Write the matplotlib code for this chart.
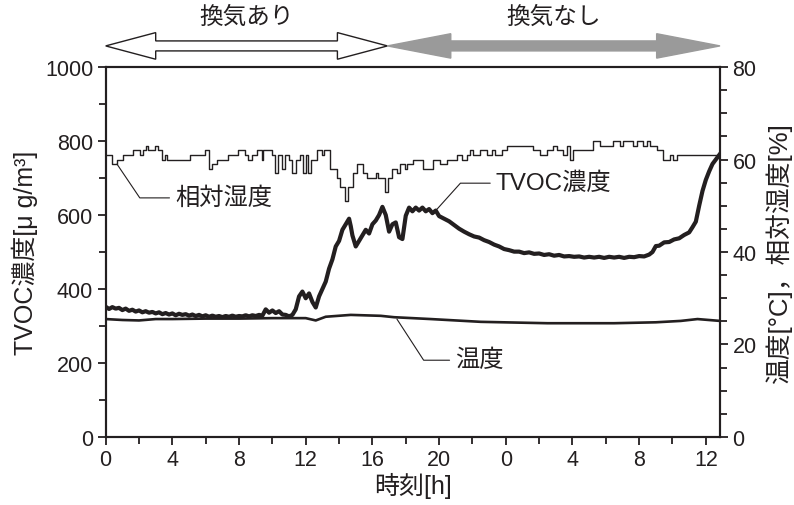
import matplotlib
matplotlib.use("Agg")
import matplotlib.pyplot as plt
from matplotlib.patches import Polygon
from matplotlib.ticker import MultipleLocator, FixedLocator
from matplotlib.transforms import blended_transform_factory

plt.rcParams["font.family"] = ["Liberation Sans", "Noto Sans CJK JP"]

INK = "#231f20"

# TVOC concentration [ug/m3] vs elapsed time [h]
tvoc_h = [0.0, 0.2, 0.4, 0.6, 0.8, 1.0, 1.2, 1.4, 1.6, 1.8, 2.0, 2.2, 2.4, 2.6, 2.8,
          3.0, 3.2, 3.4, 3.6, 3.8, 4.0, 4.2, 4.4, 4.6, 4.8, 5.0, 5.2, 5.4, 5.6, 5.8,
          6.0, 6.2, 6.4, 6.6, 6.8, 7.0, 7.2, 7.4, 7.6, 7.8, 8.0, 8.2, 8.4, 8.6, 8.8,
          9.0, 9.2, 9.4, 9.6, 9.8, 10.0, 10.2, 10.4, 10.6, 10.8, 11.0, 11.2,
          11.4, 11.6, 11.8, 12.0, 12.2, 12.4, 12.6, 12.8, 13.0, 13.2, 13.4, 13.6,
          13.8, 14.0, 14.2, 14.4, 14.6, 14.7, 14.8, 15.0, 15.2, 15.4, 15.6, 15.8,
          16.0, 16.2, 16.4, 16.6, 16.8, 17.0, 17.2, 17.4, 17.6, 17.8, 18.0, 18.2,
          18.4, 18.6, 18.8, 19.0, 19.2, 19.4, 19.6, 19.8, 20.0,
          20.3, 20.6, 20.9, 21.2, 21.5, 21.8, 22.1, 22.4, 22.7, 23.0, 23.3, 23.6,
          23.9, 24.2, 24.5, 24.8, 25.1, 25.4, 25.7, 26.0, 26.3, 26.6, 26.9, 27.2,
          27.5, 27.8, 28.1, 28.4, 28.7, 29.0, 29.3, 29.6, 29.9, 30.2, 30.5, 30.8,
          31.1, 31.4, 31.7, 32.0, 32.3, 32.6, 32.8, 33.0, 33.2, 33.5, 33.8, 34.1,
          34.4, 34.7, 35.0, 35.2, 35.4, 35.6, 35.8, 36.0, 36.2, 36.4, 36.6, 36.85]
tvoc = [352, 346, 351, 347, 349, 343, 347, 341, 344, 339, 342, 337, 340, 336, 338,
        334, 337, 332, 335, 331, 334, 329, 333, 330, 332, 328, 331, 327, 330, 326,
        329, 325, 328, 325, 327, 324, 327, 325, 328, 325, 327, 326, 329, 326, 329,
        327, 330, 328, 345, 336, 342, 335, 340, 331, 330, 326, 330,
        345, 380, 393, 375, 388, 365, 350, 380, 400, 420, 455, 480,
        515, 530, 560, 575, 590, 570, 545, 515, 530, 545, 560, 550,
        575, 585, 600, 622, 600, 555, 575, 580, 540, 535, 598, 620,
        610, 620, 612, 620, 610, 616, 605, 612, 597,
        590, 583, 573, 563, 555, 548, 542, 539, 532, 527, 520, 515,
        508, 505, 501, 501, 497, 499, 495, 496, 492, 494, 490, 492,
        488, 489, 487, 488, 485, 487, 485, 487, 484, 487, 485, 487,
        484, 487, 486, 489, 488, 493, 500, 516, 517, 526, 527, 534,
        537, 546, 553, 567, 582, 625, 665, 695, 718, 738, 750, 765]

# temperature [degC]
temp_h = [0, 1, 2, 3, 4, 6, 8, 10, 12, 12.6, 13.2, 14.7, 16.5, 17.3, 19.5, 22.5,
          26.5, 30.5, 33, 34.5, 35.5, 36.85]
temp = [25.5, 25.3, 25.2, 25.5, 25.5, 25.6, 25.6, 25.7, 25.7, 25.2, 26.0, 26.4,
        26.2, 25.9, 25.5, 24.9, 24.6, 24.6, 24.8, 25.1, 25.5, 25.1]

# relative humidity [%] (stepwise sensor readings, value holds until next time)
rh_h = [0, 0.35, 0.65, 1.05, 1.65, 2.05, 2.25, 2.4, 2.55, 2.95, 3.15, 3.35, 3.55,
        3.7, 5.05, 5.95, 6.22, 6.4, 6.7, 7.35, 7.95, 8.35, 8.55, 8.75, 9.05, 9.35,
        9.45, 9.95, 10.15, 10.35, 10.6, 10.75, 11.0, 11.2, 11.4, 11.65, 11.85,
        12.0, 12.15, 12.3, 12.7, 13.0, 13.1, 13.45, 13.85, 14.05, 14.35, 14.55,
        14.85, 15.05, 15.45, 15.65, 16.2, 16.35, 16.75, 16.95, 17.15, 17.45, 17.65,
        17.95, 18.05, 18.45, 19.05, 19.65, 20.05, 20.45, 21.05, 21.35, 21.65,
        21.85, 22.05, 22.45, 22.85, 23.15, 23.35, 23.75, 24.05, 25.65, 26.05,
        26.45, 26.85, 27.05, 27.45, 27.65, 27.85, 28.05, 29.25, 29.65, 30.45,
        30.85, 31.05, 31.65, 31.85, 32.25, 32.45, 32.65, 33.05, 33.45, 33.85,
        34.05, 34.25, 34.65, 36.85]
rh = [61, 59, 60, 61, 62, 61, 62, 63, 62, 63, 62, 60, 61, 60, 61, 62, 58, 59, 60,
      61, 62, 61, 60, 61, 62, 60, 62, 61, 57, 61, 58, 61, 60, 57, 60, 61, 57, 61,
      57, 60, 62, 61, 62, 58, 56, 54, 51, 54, 57, 59, 57, 56, 57, 56, 53, 56, 58,
      57, 59, 58, 59, 60, 58, 60, 59, 60, 61, 60, 61, 62, 61, 62, 61, 62, 61, 62,
      63, 62, 61, 62, 63, 62, 61, 63, 60, 62, 64, 63, 64, 63, 64, 63, 64, 63, 64,
      63, 62, 60, 61, 60, 61, 61, 61]

vent_on = (0, 16.9)
vent_off = (16.9, 36.85)
xtick_pos = [0, 4, 8, 12, 16, 20, 24, 28, 32, 36]
xtick_lbl = ["0", "4", "8", "12", "16", "20", "0", "4", "8", "12"]


def span_arrow(ax, x0, x1, head_len, head_half, face, edge):
    tr = blended_transform_factory(ax.transData, ax.transAxes)
    yc, sh = 1.057, 0.0135
    pts = [(x0, yc), (x0 + head_len, yc + head_half), (x0 + head_len, yc + sh),
           (x1 - head_len, yc + sh), (x1 - head_len, yc + head_half), (x1, yc),
           (x1 - head_len, yc - head_half), (x1 - head_len, yc - sh),
           (x0 + head_len, yc - sh), (x0 + head_len, yc - head_half)]
    ax.add_patch(Polygon(pts, closed=True, transform=tr, clip_on=False,
                         facecolor=face, edgecolor=edge, linewidth=1.0, zorder=5))


fig = plt.figure(figsize=(7.94, 5.06), dpi=100)
ax = fig.add_axes([0.1331, 0.1344, 0.7737, 0.7312])
ax2 = ax.twinx()

ax.plot(tvoc_h, tvoc, color=INK, linewidth=3.0, solid_joinstyle="round")
ax2.plot(temp_h, temp, color=INK, linewidth=1.9)
ax2.step(rh_h, rh, where="post", color=INK, linewidth=1.0)

ax.set_xlim(0, 36.85)
ax.set_ylim(0, 1000)
ax2.set_ylim(0, 80)

ax.xaxis.set_major_locator(FixedLocator(xtick_pos))
ax.set_xticklabels(xtick_lbl)
ax.xaxis.set_minor_locator(MultipleLocator(2))
ax.yaxis.set_major_locator(MultipleLocator(200))
ax.yaxis.set_minor_locator(MultipleLocator(100))
ax2.yaxis.set_major_locator(MultipleLocator(20))
ax2.yaxis.set_minor_locator(MultipleLocator(5))

for a in (ax, ax2):
    for s in a.spines.values():
        s.set_linewidth(1.5)
        s.set_color(INK)
    a.tick_params(which="both", direction="out", width=1.3, color=INK,
                  labelsize=15.5, labelcolor=INK, pad=3)
    a.tick_params(which="major", length=6)
    a.tick_params(which="minor", length=5)
ax.tick_params(axis="x", which="both", top=False)
ax.tick_params(axis="y", which="both", right=False)

ax.set_xlabel("時刻[h]", fontsize=18, color=INK, labelpad=1)
ax.set_ylabel("TVOC濃度[μ g/m³]", fontsize=18, color=INK, labelpad=5)
ax2.set_ylabel("温度[°C]，相対湿度[%]", fontsize=18.5, color=INK, labelpad=6)

# ventilation periods
span_arrow(ax, vent_on[0], vent_on[1], 3.0, 0.036, "white", INK)
span_arrow(ax, vent_off[0], vent_off[1], 3.8, 0.033, "#9a9a9a", "#9a9a9a")
tr = blended_transform_factory(ax.transData, ax.transAxes)
ax.text(sum(vent_on) / 2, 1.135, "換気あり", transform=tr, ha="center",
        va="center", fontsize=17, color=INK)
ax.text(sum(vent_off) / 2, 1.135, "換気なし", transform=tr, ha="center",
        va="center", fontsize=17, color=INK)

# series labels with leader lines
leader = dict(arrowstyle="-", color=INK, linewidth=0.8, relpos=(0, 0.5),
              shrinkA=2, shrinkB=0)
ax2.annotate("相対湿度", xy=(0.68, 59.0), xytext=(4.16, 51.7),
             fontsize=17.5, color=INK, ha="left", va="center",
             arrowprops=dict(leader, connectionstyle="angle,angleA=0,angleB=124"))
ax.annotate("TVOC濃度", xy=(19.88, 616), xytext=(23.4, 686),
            fontsize=17.5, color=INK, ha="left", va="center",
            arrowprops=dict(leader, connectionstyle="angle,angleA=0,angleB=48"))
ax2.annotate("温度", xy=(17.47, 25.5), xytext=(20.96, 16.6),
             fontsize=17.5, color=INK, ha="left", va="center",
             arrowprops=dict(leader, connectionstyle="angle,angleA=0,angleB=123"))

fig.savefig("out.png", dpi=100)
